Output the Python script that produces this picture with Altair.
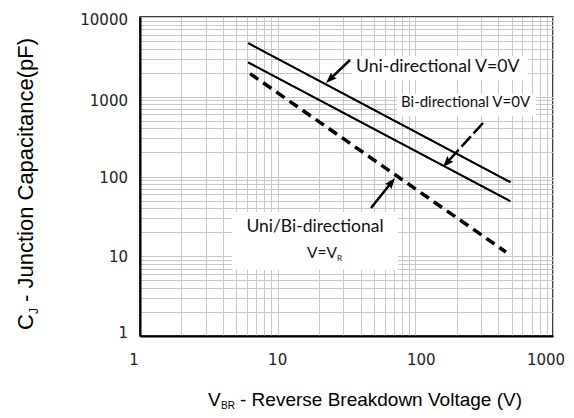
import math
import altair as alt
import pandas as pd

# ---- data ----
uni_v = [6.1, 490]
uni_c = [4700, 85]
bi_v = [6.1, 490]
bi_c = [2700, 49]
vr_v = [6.3, 455]
vr_c = [1950, 11.3]

x_decades = [1, 10, 100, 1000]
y_decades = [1, 10, 100, 1000, 10000]
x_grid = [m * d for d in [1, 10, 100] for m in range(1, 10)] + [1000]
y_grid = [m * d for d in [1, 10, 100, 1000] for m in range(1, 10)] + [10000]

# small label nudges seen in the reference (pixels)
x_label_dx = {1: -6, 10: 0, 100: 6, 1000: -7}
y_label_dy = {1: -3.5, 10: 1, 100: 1.5, 1000: 4, 10000: 2.5}

W, H = 413, 319

solid = pd.DataFrame({
    "v": uni_v + bi_v,
    "c": uni_c + bi_c,
    "s": ["Uni-directional V=0V"] * len(uni_v) + ["Bi-directional V=0V"] * len(bi_v),
})
dashed = pd.DataFrame({"v": vr_v, "c": vr_c, "s": ["Uni/Bi-directional V=VR"] * len(vr_v)})

xscale = alt.Scale(type="log", domain=[1, 1000], nice=False)
yscale = alt.Scale(type="log", domain=[1, 10000], nice=False)

xaxis = alt.Axis(values=x_grid, labels=False, ticks=False, domain=True,
                 domainColor="#000", domainWidth=2, grid=True, gridColor="#c8c8c8", gridWidth=1,
                 title=None)
yaxis = alt.Axis(values=y_grid, labels=False, ticks=False, domain=True,
                 domainColor="#000", domainWidth=2, grid=True, gridColor="#c8c8c8", gridWidth=1,
                 title=None)

one = pd.DataFrame({"a": [0]})

def box(x1, y1, x2, y2):
    return alt.Chart(one).mark_rect(color="white").encode(
        x=alt.value(x1), x2=alt.value(x2), y=alt.value(y1), y2=alt.value(y2))

def txt(x, y, s, size, font="Lato", angle=0, color="#111", align="left"):
    kw = dict(align=align, baseline="alphabetic", font=font, fontSize=size, color=color, text=s)
    if angle:
        kw["angle"] = angle
    return alt.Chart(one).mark_text(**kw).encode(x=alt.value(x), y=alt.value(y))

ARROW = "M0,-1L0.75,1L0,0.7L-0.75,1Z"

def arrow(x0, y0, x1, y1, width=2.5, dash=None, head=11):
    dx, dy = x1 - x0, y1 - y0
    L = math.hypot(dx, dy)
    ux, uy = dx / L, dy / L
    r = head / 2
    cx, cy = x1 - ux * r, y1 - uy * r
    ang = math.degrees(math.atan2(dx, -dy)) % 360
    rk = dict(color="black", strokeWidth=width)
    if dash:
        rk["strokeDash"] = dash
    shaft = alt.Chart(one).mark_rule(**rk).encode(
        x=alt.value(x0), y=alt.value(y0), x2=alt.value(cx), y2=alt.value(cy))
    tip = alt.Chart(one).mark_point(shape=ARROW, filled=True, color="black", opacity=1,
                                    size=head * head, angle=ang, strokeWidth=0).encode(
        x=alt.value(cx), y=alt.value(cy))
    return shaft + tip

lines = alt.Chart(solid).mark_line(color="black", strokeWidth=1.8).encode(
    x=alt.X("v:Q", scale=xscale, axis=xaxis),
    y=alt.Y("c:Q", scale=yscale, axis=yaxis),
    detail="s:N",
)
dash_line = alt.Chart(dashed).mark_line(color="black", strokeWidth=3.5, strokeDash=[10, 6]).encode(
    x=alt.X("v:Q", scale=xscale),
    y=alt.Y("c:Q", scale=yscale),
)

x_labels = [
    alt.Chart(pd.DataFrame({"v": [v], "t": [str(v)]})).mark_text(
        align="center", baseline="alphabetic", font="DejaVu Sans", fontSize=15,
        color="#222", dx=x_label_dx[v]).encode(
        x=alt.X("v:Q", scale=xscale), y=alt.value(H + 29), text="t:N")
    for v in x_decades
]
y_labels = [
    alt.Chart(pd.DataFrame({"c": [c], "t": [str(c)]})).mark_text(
        align="right", baseline="middle", font="DejaVu Sans", fontSize=15,
        color="#222", dy=y_label_dy[c]).encode(
        y=alt.Y("c:Q", scale=yscale), x=alt.value(-12), text="t:N")
    for c in y_decades
]

layers = [
    lines,
    box(212, 39, 388, 63),
    box(257, 77, 396, 99),
    box(92, 195, 258, 253),
    lines,
    dash_line,
    arrow(210, 43, 186, 66),
    arrow(343, 106, 303, 150, dash=[14, 4]),
    arrow(231, 191, 255, 161),
    txt(216, 55, "Uni-directional V=0V", 17.7),
    txt(261, 90, "Bi-directional V=0V", 15),
    txt(175, 215, "Uni/Bi-directional", 17.5, align="center"),
    txt(167, 241, "V=V", 15.5),
    txt(197, 244, "R", 8),
    # y title
    txt(-107, 313, "C", 22, font="Liberation Sans", angle=270, color="#000"),
    txt(-102, 297, "J", 12, font="Liberation Sans", angle=270, color="#000"),
    txt(-107, 285, "- Junction Capacitance(pF)", 22, font="Liberation Sans", angle=270, color="#000"),
    # x title
    txt(68, 388.5, "V", 19, font="Liberation Sans", color="#000"),
    txt(81, 392, "BR", 10, font="Liberation Sans", color="#000"),
    txt(100, 388.5, "- Reverse Breakdown Voltage (V)", 19, font="Liberation Sans", color="#000"),
] + x_labels + y_labels

chart = alt.layer(*layers).properties(
    width=W, height=H,
    autosize=alt.AutoSizeParams(type="none"),
    padding={"left": 132, "top": 9, "right": 13, "bottom": 74},
).configure_view(stroke="black", strokeWidth=1.5).configure_axis(zindex=0)

chart.save("out.html", embed_options={"renderer": "svg", "actions": False})
